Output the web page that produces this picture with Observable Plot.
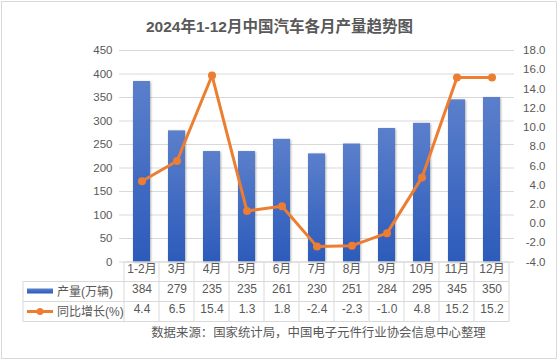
<!DOCTYPE html>
<html><head><meta charset="utf-8">
<script src="https://cdn.jsdelivr.net/npm/d3@7"></script>
<script src="https://cdn.jsdelivr.net/npm/@observablehq/plot@0.6"></script>
<style>
body{margin:0;background:#fff;}
#wrap{position:relative;width:559px;height:364px;font-family:"Liberation Sans","Noto Sans CJK SC",sans-serif;}
#frame{position:absolute;left:1px;top:1px;width:554px;height:356px;border:1px solid #d9d9d9;}
#title{position:absolute;left:0;width:559px;top:14px;text-align:center;font-size:15.5px;font-weight:bold;color:#595959;font-family:"Liberation Sans","Noto Sans CJK SC",sans-serif;}
#wrap svg{position:absolute;left:0;top:0;}
</style></head><body>
<div id="wrap"><div id="frame"></div><div id="title"></div></div>
<script>
const titleText = "2024年1-12月中国汽车各月产量趋势图";
const months = ["1-2月","3月","4月","5月","6月","7月","8月","9月","10月","11月","12月"];
const production = [384,279,235,235,261,230,251,284,295,345,350];
const growth = [4.4,6.5,15.4,1.3,1.8,-2.4,-2.3,-1.0,4.8,15.2,15.2];
const leftTicks = [0,50,100,150,200,250,300,350,400,450];
const rightTicks = [-4,-2,0,2,4,6,8,10,12,14,16,18];
const seriesNames = ["产量(万辆)","同比增长(%)"];
const sourceText = "数据来源：国家统计局，中国电子元件行业协会信息中心整理";

const leftMax = 450, rMin = -4, rMax = 18;
const toY = g => (g - rMin) * leftMax / (rMax - rMin);
const fromY = y => y * (rMax - rMin) / leftMax + rMin;

const rows = months.map((m, i) => ({month: m, prod: production[i], g: growth[i], gy: toY(growth[i])}));

document.getElementById("title").textContent = titleText;

const NS = "http://www.w3.org/2000/svg";
function defs() {
  const d = document.createElementNS(NS, "defs");
  d.innerHTML = `
    <linearGradient id="barGrad" x1="0" y1="0" x2="0" y2="1">
      <stop offset="0" stop-color="#5b7fcb"/>
      <stop offset="1" stop-color="#2c5bbb"/>
    </linearGradient>
    <filter id="barShadow" x="-30%" y="-10%" width="160%" height="120%">
      <feDropShadow dx="0.8" dy="0.8" stdDeviation="1.3" flood-color="#000" flood-opacity="0.35"/>
    </filter>`;
  return d;
}

const font = '"Liberation Sans","Noto Sans CJK SC",sans-serif';
const chart = Plot.plot({
  width: 559, height: 364,
  marginTop: 50, marginBottom: 102.5, marginLeft: 119, marginRight: 45,
  style: {fontFamily: font, fontSize: "11.5px", color: "#595959", background: "transparent", overflow: "visible"},
  x: {domain: months, paddingInner: 0.52, paddingOuter: 0.26, axis: null},
  y: {domain: [0, leftMax], axis: null},
  marks: [
    defs,
    Plot.gridY(leftTicks, {stroke: "#d9d9d9", strokeOpacity: 1}),
    Plot.axisY(leftTicks, {anchor: "left", tickSize: 0, tickPadding: 7, fill: "#595959"}),
    Plot.axisY(rightTicks.map(toY), {anchor: "right", tickSize: 0, tickPadding: 31, textAnchor: "end", fill: "#595959", tickFormat: y => fromY(y).toFixed(1)}),
    Plot.barY(rows, {x: "month", y: "prod", fill: "url(#barGrad)"}),
    Plot.line(rows, {x: "month", y: "gy", stroke: "#ed7d31", strokeWidth: 3}),
    Plot.dot(rows, {x: "month", y: "gy", r: 4, fill: "#ed7d31"}),
    Plot.text(rows, {x: "month", text: "month", frameAnchor: "bottom", dy: 10.5, fontSize: 12, fill: "#595959"}),
    Plot.text(rows, {x: "month", text: d => String(d.prod), frameAnchor: "bottom", dy: 30.5, fontSize: 12, fill: "#595959"}),
    Plot.text(rows, {x: "month", text: d => d.g.toFixed(1), frameAnchor: "bottom", dy: 50.5, fontSize: 12, fill: "#595959"})
  ]
});

const svg = d3.select(chart);
svg.selectAll('g[aria-label="bar"]').attr("filter", "url(#barShadow)");

// table grid
const xs = chart.scale("x");
const step = xs.step, bw = xs.bandwidth;
const edges = months.map(m => xs.apply(m) - (step - bw) / 2);
edges.push(edges[edges.length - 1] + step);
const yTop = 262, r1 = 281.5, r2 = 301.5, yBot = 321.5, legLeft = 23;
const g = svg.append("g").attr("stroke", "#d9d9d9").attr("stroke-width", 1).attr("fill", "none");
edges.forEach(x => g.append("line").attr("x1", x).attr("x2", x).attr("y1", yTop).attr("y2", yBot));
g.append("line").attr("x1", legLeft).attr("x2", legLeft).attr("y1", r1).attr("y2", yBot);
g.append("line").attr("x1", edges[0]).attr("x2", edges[edges.length-1]).attr("y1", yTop).attr("y2", yTop);
[r1, r2, yBot].forEach(y => g.append("line").attr("x1", legLeft).attr("x2", edges[edges.length-1]).attr("y1", y).attr("y2", y));

// legend keys in table
const lg = svg.append("g");
lg.append("rect").attr("x", 27).attr("y", 288.5).attr("width", 26).attr("height", 5).attr("fill", "url(#barGrad)");
lg.append("line").attr("x1", 27).attr("x2", 53).attr("y1", 311.5).attr("y2", 311.5).attr("stroke", "#ed7d31").attr("stroke-width", 3);
lg.append("circle").attr("cx", 40).attr("cy", 311.5).attr("r", 3.5).attr("fill", "#ed7d31");
[[291.5, seriesNames[0]], [311.5, seriesNames[1]]].forEach(([y, t]) =>
  lg.append("text").attr("x", 57).attr("y", y).attr("dy", "0.35em").attr("text-anchor", "start").attr("font-size", 12).attr("fill", "#595959").attr("font-family", font).text(t));

// source
svg.append("text").attr("x", 318.5).attr("y", 333).attr("dy", "0.35em").attr("text-anchor", "middle")
  .attr("font-size", 12.4).attr("fill", "#595959").attr("font-family", font).text(sourceText);

document.getElementById("wrap").appendChild(chart);
</script>
</body></html>
